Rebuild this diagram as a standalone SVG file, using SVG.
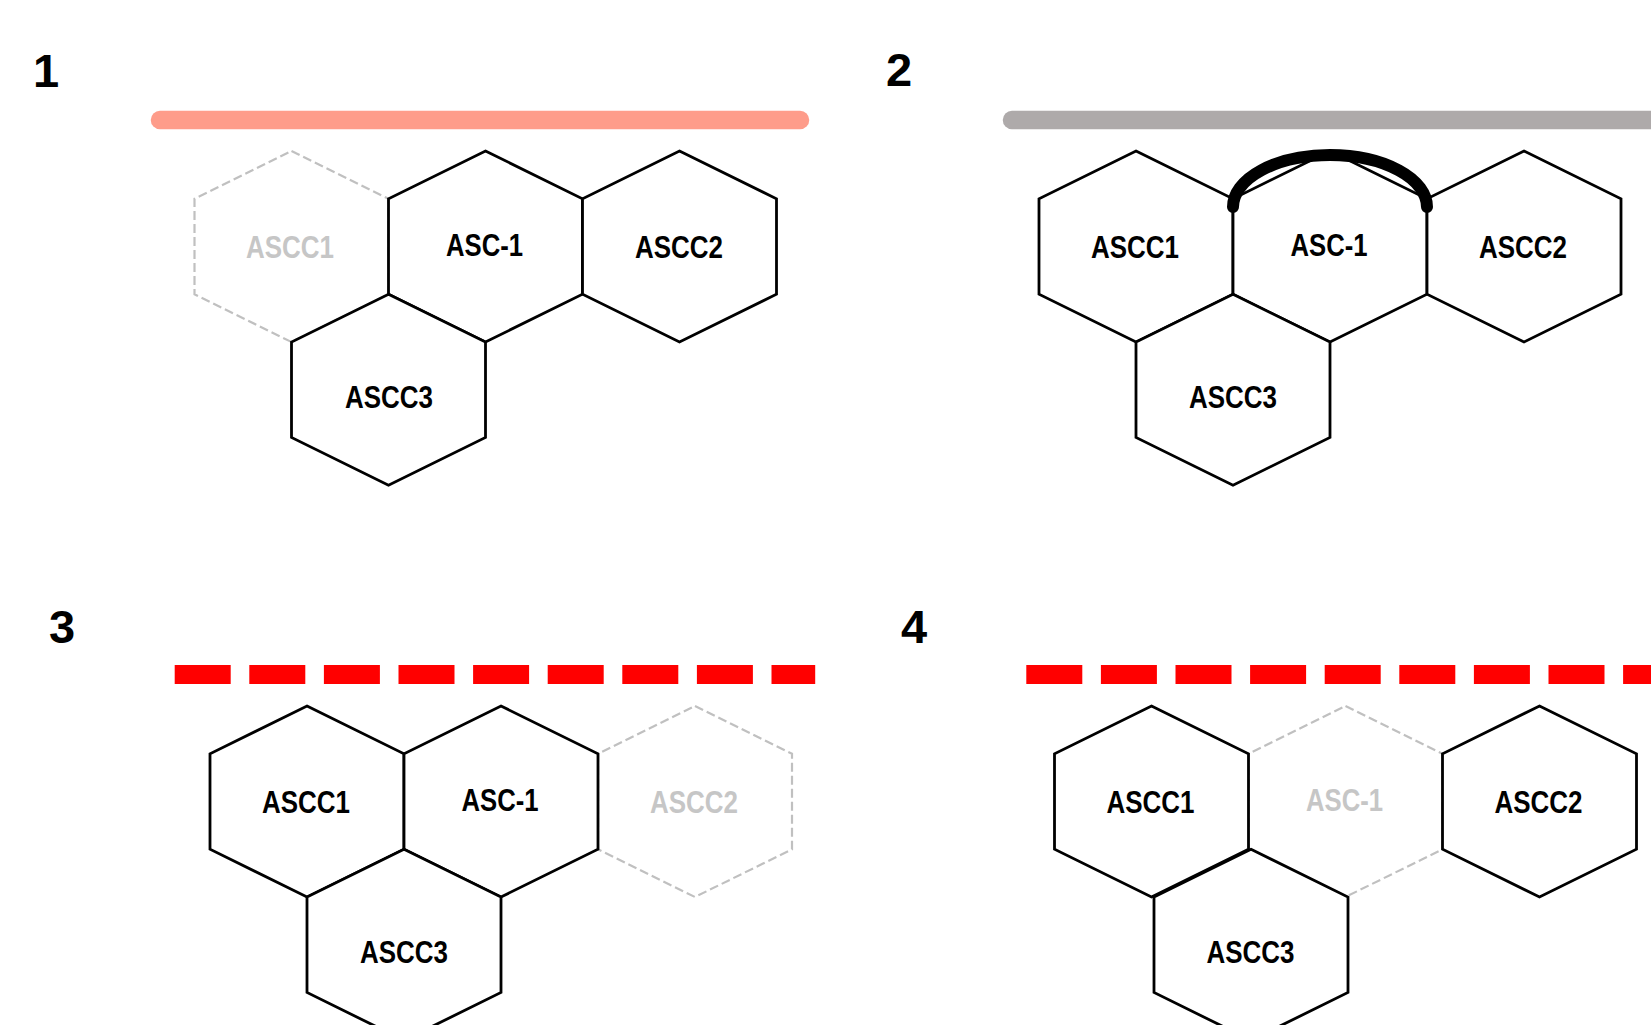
<svg xmlns="http://www.w3.org/2000/svg" xmlns:xlink="http://www.w3.org/1999/xlink" width="1651" height="1025" viewBox="0 0 1651 1025">
<style>
.hex{fill:#ffffff;stroke:#000000;stroke-width:2.8;stroke-linejoin:miter}
.ghost{fill:none;stroke:#c0c0c0;stroke-width:2.2;stroke-dasharray:9 4}
.lbl{font-family:"Liberation Sans",Arial,sans-serif;font-weight:bold;font-size:31px;text-anchor:middle;fill:#000000}
.glbl{fill:#c6c6c6}
.num{font-family:"Liberation Sans",Arial,sans-serif;font-weight:bold;font-size:47px;fill:#000000}
.bar{fill:none;stroke-width:18.5}
.dbar{fill:none;stroke:#ff0000;stroke-width:19;stroke-dasharray:56 18.6}
</style>
<defs>
<path id="hexshape" d="M0,-95.5 L97,-47.75 L97,47.75 L0,95.5 L-97,47.75 L-97,-47.75 Z"/>
</defs>
<rect width="1651" height="1025" fill="#ffffff"/>

<g id="panel-labels">
<text class="num" x="33" y="87">1</text>
<text class="num" x="886" y="86">2</text>
<text class="num" x="49" y="643">3</text>
<text class="num" x="901" y="643">4</text>
</g>
<g id="bars">
<line class="bar" x1="160" y1="120" x2="800" y2="120" stroke="#fe9c8a" stroke-linecap="round"/>
<line class="bar" x1="1012" y1="120" x2="1700" y2="120" stroke="#aeaaaa" stroke-linecap="round"/>
<line class="dbar" x1="174.7" y1="674.5" x2="815.2" y2="674.5"/>
<line class="dbar" x1="1026.3" y1="674.5" x2="1700" y2="674.5"/>
</g>

<!-- Panel 1 -->
<g id="p1-ascc1">
<use xlink:href="#hexshape" href="#hexshape" x="291.5" y="246.5" class="ghost"/>
<text class="lbl glbl" x="290" y="257.5" textLength="88" lengthAdjust="spacingAndGlyphs">ASCC1</text>
</g>
<g id="p1-asc1">
<use xlink:href="#hexshape" href="#hexshape" x="485.5" y="246.5" class="hex"/>
<text class="lbl" x="484.5" y="256" textLength="77" lengthAdjust="spacingAndGlyphs">ASC-1</text>
</g>
<g id="p1-ascc2">
<use xlink:href="#hexshape" href="#hexshape" x="679.5" y="246.5" class="hex"/>
<text class="lbl" x="679" y="257.5" textLength="88" lengthAdjust="spacingAndGlyphs">ASCC2</text>
</g>
<g id="p1-ascc3">
<use xlink:href="#hexshape" href="#hexshape" x="388.5" y="389.75" class="hex"/>
<text class="lbl" x="389" y="408" textLength="88" lengthAdjust="spacingAndGlyphs">ASCC3</text>
</g>

<!-- Panel 2 -->
<g id="p2-ascc1">
<use xlink:href="#hexshape" href="#hexshape" x="1136" y="246.5" class="hex"/>
<text class="lbl" x="1135" y="257.5" textLength="88" lengthAdjust="spacingAndGlyphs">ASCC1</text>
</g>
<g id="p2-asc1">
<use xlink:href="#hexshape" href="#hexshape" x="1330" y="246.5" class="hex"/>
<text class="lbl" x="1329" y="256" textLength="77" lengthAdjust="spacingAndGlyphs">ASC-1</text>
</g>
<g id="p2-ascc2">
<use xlink:href="#hexshape" href="#hexshape" x="1524" y="246.5" class="hex"/>
<text class="lbl" x="1523" y="257.5" textLength="88" lengthAdjust="spacingAndGlyphs">ASCC2</text>
</g>
<g id="p2-ascc3">
<use xlink:href="#hexshape" href="#hexshape" x="1233" y="389.75" class="hex"/>
<text class="lbl" x="1233" y="408" textLength="88" lengthAdjust="spacingAndGlyphs">ASCC3</text>
</g>

<!-- Panel 3 -->
<g id="p3-ascc2">
<use xlink:href="#hexshape" href="#hexshape" x="695" y="801.5" class="ghost"/>
<text class="lbl glbl" x="694" y="812.5" textLength="88" lengthAdjust="spacingAndGlyphs">ASCC2</text>
</g>
<g id="p3-ascc1">
<use xlink:href="#hexshape" href="#hexshape" x="307" y="801.5" class="hex"/>
<text class="lbl" x="306" y="812.5" textLength="88" lengthAdjust="spacingAndGlyphs">ASCC1</text>
</g>
<g id="p3-asc1">
<use xlink:href="#hexshape" href="#hexshape" x="501" y="801.5" class="hex"/>
<text class="lbl" x="500" y="811" textLength="77" lengthAdjust="spacingAndGlyphs">ASC-1</text>
</g>
<g id="p3-ascc3">
<use xlink:href="#hexshape" href="#hexshape" x="404" y="944.75" class="hex"/>
<text class="lbl" x="404" y="963" textLength="88" lengthAdjust="spacingAndGlyphs">ASCC3</text>
</g>

<!-- Panel 4 -->
<g id="p4-asc1">
<use xlink:href="#hexshape" href="#hexshape" x="1345.5" y="801.5" class="ghost"/>
<text class="lbl glbl" x="1344.5" y="811" textLength="77" lengthAdjust="spacingAndGlyphs">ASC-1</text>
</g>
<g id="p4-ascc1">
<use xlink:href="#hexshape" href="#hexshape" x="1151.5" y="801.5" class="hex"/>
<text class="lbl" x="1150.5" y="812.5" textLength="88" lengthAdjust="spacingAndGlyphs">ASCC1</text>
</g>
<g id="p4-ascc2">
<use xlink:href="#hexshape" href="#hexshape" x="1539.5" y="801.5" class="hex"/>
<text class="lbl" x="1538.5" y="812.5" textLength="88" lengthAdjust="spacingAndGlyphs">ASCC2</text>
</g>
<g id="p4-ascc3">
<use xlink:href="#hexshape" href="#hexshape" x="1251" y="944.75" class="hex"/>
<text class="lbl" x="1250.5" y="963" textLength="88" lengthAdjust="spacingAndGlyphs">ASCC3</text>
</g>

<g id="connectors">
<path d="M1233,207 A97,52 0 0 1 1427,207" fill="none" stroke="#000000" stroke-width="12" stroke-linecap="round"/>
</g>
</svg>
